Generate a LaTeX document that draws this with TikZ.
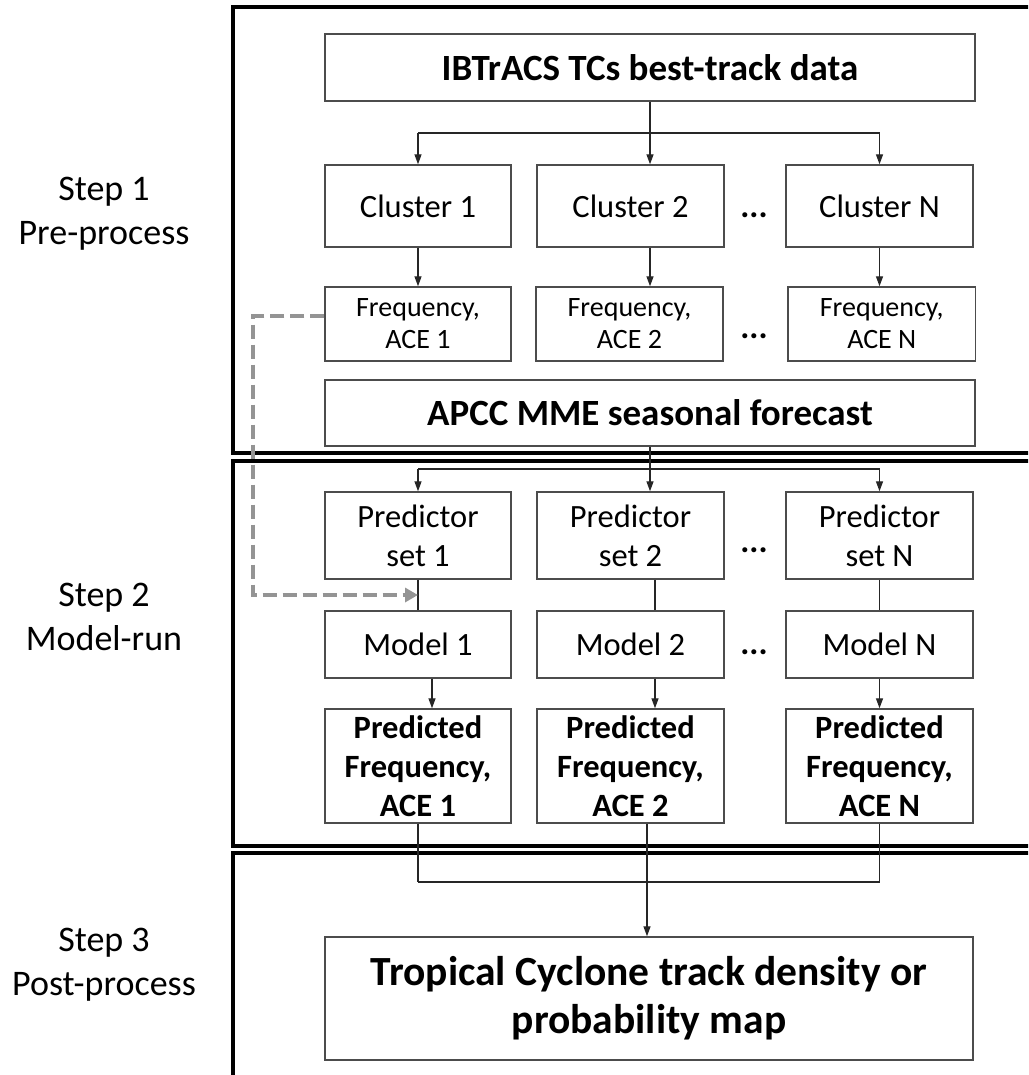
\documentclass[tikz,border=0pt]{standalone}
\usepackage{fontspec}
\setmainfont{Carlito}
\usetikzlibrary{arrows.meta}
\begin{document}
\begin{tikzpicture}[x=1pt,y=-1pt,
  box/.style={draw=black!70, line width=1.4pt, inner sep=0pt, align=center, text=black},
  conn/.style={draw=black!85, line width=1.3pt},
  arr/.style={conn, -{Triangle[length=10pt,width=7pt]}},
  frame/.style={draw=black, line width=4pt},
  dsh/.style={draw=black!42, line width=4.5pt, dash pattern=on 14pt off 6pt, -{Triangle[length=13pt,width=14pt]}},
  fbig/.style={font=\fontsize{37}{44}\selectfont\bfseries},
  fmid/.style={font=\fontsize{32.5}{39}\selectfont},
  fmidb/.style={font=\fontsize{32.5}{39}\selectfont\bfseries},
  fsmall/.style={font=\fontsize{28}{32}\selectfont},
  ffin/.style={font=\fontsize{41.5}{48}\selectfont\bfseries},
  fstep/.style={font=\fontsize{36}{44}\selectfont, align=center},
  dots/.style={font=\fontsize{34}{38}\selectfont\bfseries}
]
\useasboundingbox (0,0) rectangle (1028,1075);
\clip (0,0) rectangle (1028,1075);

% frames
\draw[frame] (233,7) rectangle (1045,453);
\draw[frame] (233,461) rectangle (1045,846);
\draw[frame] (233,853) rectangle (1045,1095);

% step labels
\node[fstep] (s1) at (104,214) {Step 1\\Pre-process};
\node[fstep] (s2) at (104,617) {Step 2\\Model-run};
\node[fstep] (s3) at (104,965) {Step 3\\Post-process};

% boxes
\node[box, fbig, minimum width=650pt, minimum height=67pt] (title) at (650,67.5) {IBTrACS TCs best-track data};

\node[box, fmid, minimum width=186pt, minimum height=82pt] (c1) at (418,206) {Cluster 1};
\node[box, fmid, minimum width=187pt, minimum height=82pt] (c2) at (630.5,206) {Cluster 2};
\node[box, fmid, minimum width=187pt, minimum height=82pt] (cN) at (879.5,206) {Cluster N};

\node[box, fsmall, minimum width=186pt, minimum height=74pt] (f1) at (418,324) {Frequency,\\ACE 1};
\node[box, fsmall, minimum width=187pt, minimum height=74pt] (f2) at (629.5,324) {Frequency,\\ACE 2};
\node[box, fsmall, minimum width=187.5pt, minimum height=74pt] (fN) at (881.75,324) {Frequency,\\ACE N};

\node[box, fbig, minimum width=650pt, minimum height=66pt] (apcc) at (650,413) {APCC MME seasonal forecast};

\node[box, fmid, minimum width=186pt, minimum height=87pt] (p1) at (418,535.5) {Predictor\\set 1};
\node[box, fmid, minimum width=187pt, minimum height=87pt] (p2) at (630.5,535.5) {Predictor\\set 2};
\node[box, fmid, minimum width=187pt, minimum height=87pt] (pN) at (879.5,535.5) {Predictor\\set N};

\node[box, fmid, minimum width=186pt, minimum height=67pt] (m1) at (418,644.5) {Model 1};
\node[box, fmid, minimum width=187pt, minimum height=67pt] (m2) at (630.5,644.5) {Model 2};
\node[box, fmid, minimum width=187pt, minimum height=67pt] (mN) at (879.5,644.5) {Model N};

\node[box, fmidb, minimum width=186pt, minimum height=114pt] (q1) at (418,766) {Predicted\\Frequency,\\ACE 1};
\node[box, fmidb, minimum width=187pt, minimum height=114pt] (q2) at (630.5,766) {Predicted\\Frequency,\\ACE 2};
\node[box, fmidb, minimum width=187pt, minimum height=114pt] (qN) at (879.5,766) {Predicted\\Frequency,\\ACE N};

\node[box, ffin, minimum width=648pt, minimum height=123pt] (fin) at (649,998.5) {Tropical Cyclone track density or\\probability map};

% dots
\node[dots] (dc) at (754,215) {...};
\node[dots] (df) at (754,336) {...};
\node[dots] (dp) at (754,550) {...};
\node[dots] (dm) at (754,652) {...};

% connectors: title -> clusters
\coordinate (d1) at (650,133);
\draw[conn] (title.south) -- (d1);
\draw[conn] (d1 -| c1) -- (d1 -| cN);
\draw[arr] (d1 -| c1) -- (c1.north);
\draw[arr] (d1) -- (c2.north -| d1);
\draw[arr] (d1 -| cN) -- (cN.north);

% clusters -> frequency
\draw[arr] (c1) -- (f1);
\draw[arr] (c2.south -| d1) -- (f2.north -| d1);
\draw[arr] (cN.south) -- (cN.south |- fN.north);

% apcc -> predictors
\coordinate (d2) at (650,469);
\draw[conn] (apcc.south) -- (d2);
\draw[conn] (d2 -| p1) -- (d2 -| pN);
\draw[arr] (d2 -| p1) -- (p1.north);
\draw[arr] (d2) -- (p2.north -| d2);
\draw[arr] (d2 -| pN) -- (pN.north);

% predictors -> models
\coordinate (mx) at (655,600);
\draw[conn] (p1) -- (m1);
\draw[conn] (p2.south -| mx) -- (m2.north -| mx);
\draw[conn] (pN) -- (mN);

% models -> predicted
\coordinate (m1x) at (432,700);
\draw[arr] (m1.south -| m1x) -- (q1.north -| m1x);
\draw[arr] (m2.south -| mx) -- (q2.north -| mx);
\draw[arr] (mN) -- (qN);

% predicted -> final
\coordinate (d3) at (647,882);
\draw[conn] (q1.south) -- (q1.south |- d3);
\draw[conn] (q2.south -| d3) -- (d3);
\draw[conn] (qN.south) -- (qN.south |- d3);
\draw[conn] (d3 -| q1) -- (d3 -| qN);
\draw[arr] (d3) -- (fin.north -| d3);

% dashed feedback
\coordinate (dx) at (253,595);
\coordinate (dend) at (418,595);
\draw[dsh] ([yshift=8pt]f1.west) -| (dx) -- (dend);
\end{tikzpicture}
\end{document}
